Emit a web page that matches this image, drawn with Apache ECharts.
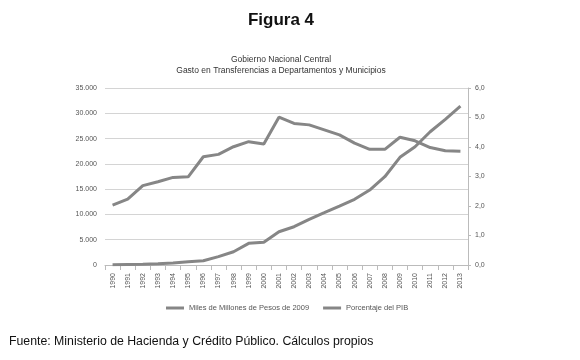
<!DOCTYPE html>
<html>
<head>
<meta charset="utf-8">
<script src="https://cdn.jsdelivr.net/npm/echarts@6/dist/echarts.min.js"></script>
<style>
  html, body { margin: 0; padding: 0; background: #fff; }
  #main { width: 580px; height: 360px; }
</style>
</head>
<body>
<div id="main"></div>
<script>
// datos
var years = ['1990','1991','1992','1993','1994','1995','1996','1997','1998','1999','2000','2001',
             '2002','2003','2004','2005','2006','2007','2008','2009','2010','2011','2012','2013'];
// Miles de Millones de Pesos de 2009 (eje izquierdo)
var pesos = [50, 100, 150, 270, 400, 660, 850, 1650, 2630, 4280, 4500, 6580,
             7570, 9030, 10340, 11660, 12990, 14830, 17460, 21290, 23390, 26350, 28800, 31400];
// Porcentaje del PIB (eje derecho)
var pib = [2.03, 2.23, 2.69, 2.82, 2.97, 2.99, 3.67, 3.75, 4.01, 4.18, 4.10, 5.01,
           4.80, 4.75, 4.58, 4.41, 4.13, 3.92, 3.92, 4.33, 4.21, 3.98, 3.87, 3.86];
var seriesNames = ['Miles de Millones de Pesos de 2009', 'Porcentaje del PIB'];

var myChart = echarts.init(document.getElementById('main'));
var lineColor = '#868686';
var option = {
    backgroundColor: '#ffffff',
    animation: false,
    graphic: [{
        type: 'text',
        x: 281, y: 12,
        style: { text: 'Figura 4', align: 'center', fontFamily: 'Liberation Sans', fontSize: 17, fontWeight: 'bold', fill: '#111' }
    }, {
        type: 'text',
        x: 281, y: 55,
        style: { text: 'Gobierno Nacional Central', align: 'center', fontFamily: 'Liberation Sans', fontSize: 8.5, fill: '#333' }
    }, {
        type: 'text',
        x: 281, y: 66,
        style: { text: 'Gasto en Transferencias a Departamentos y Municipios', align: 'center', fontFamily: 'Liberation Sans', fontSize: 8.5, fill: '#333' }
    }, {
        type: 'text',
        x: 9, y: 336,
        style: { text: 'Fuente: Ministerio de Hacienda y Crédito Público. Cálculos propios', fontFamily: 'Liberation Sans', fontSize: 12.3, fill: '#111' }
    }],
    legend: {
        data: seriesNames,
        left: 161,
        top: 299,
        icon: 'rect',
        itemWidth: 18,
        itemHeight: 3,
        itemGap: 14,
        textStyle: { fontFamily: 'Liberation Sans', fontSize: 7.5, color: '#555' }
    },
    grid: {
        left: 105,
        right: 112,
        top: 88,
        bottom: 95
    },
    xAxis: {
        type: 'category',
        data: years,
        boundaryGap: true,
        axisLine: { lineStyle: { color: '#bbbbbb' } },
        axisTick: { show: true, lineStyle: { color: '#bbbbbb' } },
        axisLabel: {
            interval: 0,
            rotate: 90,
            fontSize: 7,
            color: '#555',
            fontFamily: 'Liberation Sans'
        }
    },
    yAxis: [{
        type: 'value',
        min: 0,
        max: 35000,
        interval: 5000,
        axisLine: { show: false },
        axisTick: { show: false },
        splitLine: { show: true, lineStyle: { color: '#d4d4d4', width: 1 } },
        axisLabel: {
            fontSize: 7,
            color: '#555',
            fontFamily: 'Liberation Sans',
            margin: 8,
            formatter: function (v) {
                return String(v).replace(/\B(?=(\d{3})+(?!\d))/g, '.');
            }
        }
    }, {
        type: 'value',
        min: 0,
        max: 6,
        interval: 1,
        position: 'right',
        axisLine: { show: true, lineStyle: { color: '#bbbbbb' } },
        axisTick: { show: true, length: 3, lineStyle: { color: '#bbbbbb' } },
        splitLine: { show: false },
        axisLabel: {
            fontSize: 7,
            color: '#555',
            fontFamily: 'Liberation Sans',
            margin: 7,
            formatter: function (v) {
                return v.toFixed(1).replace('.', ',');
            }
        }
    }],
    series: [{
        name: seriesNames[0],
        type: 'line',
        yAxisIndex: 0,
        data: pesos,
        symbol: 'none',
        lineStyle: { color: lineColor, width: 3 },
        itemStyle: { color: lineColor }
    }, {
        name: seriesNames[1],
        type: 'line',
        yAxisIndex: 1,
        data: pib,
        symbol: 'none',
        lineStyle: { color: lineColor, width: 3 },
        itemStyle: { color: lineColor }
    }]
};
myChart.setOption(option, true);
</script>
</body>
</html>
